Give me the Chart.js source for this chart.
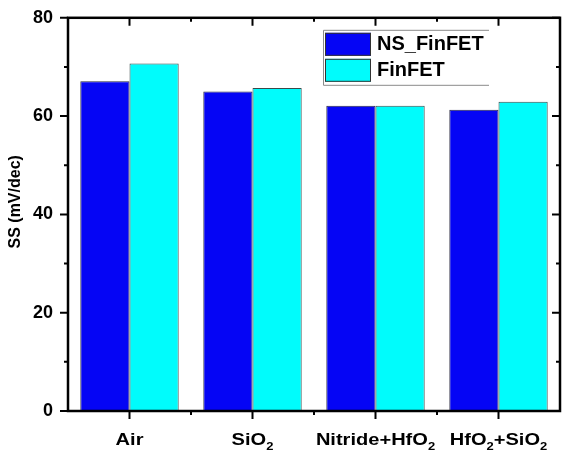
<!DOCTYPE html>
<html>
<head>
<meta charset="utf-8">
<script src="https://cdn.jsdelivr.net/npm/chart.js@4.4.1/dist/chart.umd.min.js"></script>
<style>
  html, body { margin: 0; padding: 0; background: #fff; }
  #wrap { width: 562px; height: 454px; }
</style>
</head>
<body>
<div id="wrap"><canvas id="c" width="562" height="454"></canvas></div>
<script>
// Subthreshold swing by spacer dielectric
const categories = ['Air', 'SiO₂', 'Nitride+HfO₂', 'HfO₂+SiO₂'];
const nsFinFET = [67.1, 65.0, 62.1, 61.3];
const finFET = [70.7, 65.7, 62.1, 62.9];
const seriesNames = ['NS_FinFET', 'FinFET'];
const yTicks = [0, 20, 40, 60, 80];

const FONT = "'Liberation Sans', Arial, Helvetica, sans-serif";

// Draws a label where '₂' is rendered as a lowered, smaller '2'
function drawSubText(ctx, text, cx, baseY, size, stretch) {
  const parts = [];
  let buf = '';
  for (const ch of text) {
    if (ch === '₂') { if (buf) parts.push({ t: buf, sub: false }); buf = ''; parts.push({ t: '2', sub: true }); }
    else buf += ch;
  }
  if (buf) parts.push({ t: buf, sub: false });
  const subSize = Math.round(size * 0.65);
  let total = 0;
  for (const p of parts) {
    ctx.font = 'bold ' + (p.sub ? subSize : size) + 'px ' + FONT;
    p.w = ctx.measureText(p.t).width;
    total += p.w;
  }
  ctx.save();
  ctx.translate(cx, baseY);
  ctx.scale(stretch, 1);
  let x = -total / 2;
  ctx.textAlign = 'left';
  ctx.textBaseline = 'alphabetic';
  for (const p of parts) {
    ctx.font = 'bold ' + (p.sub ? subSize : size) + 'px ' + FONT;
    ctx.fillText(p.t, x, p.sub ? size * 0.3 : 0);
    x += p.w;
  }
  ctx.restore();
}

const framePlugin = {
  id: 'frame',
  afterDatasetsDraw(chart) {
    const { ctx, chartArea: a, scales } = chart;
    const xs = scales.x, ys = scales.y;
    ctx.save();
    ctx.strokeStyle = '#000';
    ctx.lineCap = 'butt';

    // ticks
    ctx.lineWidth = 2;
    const majorLen = 8, minorLen = 4;
    ctx.beginPath();
    yTicks.forEach(v => {
      const y = ys.getPixelForValue(v);
      ctx.moveTo(a.left - majorLen, y); ctx.lineTo(a.left, y);
      ctx.moveTo(a.right, y); ctx.lineTo(a.right - majorLen, y);
    });
    for (let i = 0; i < yTicks.length - 1; i++) {
      const y = ys.getPixelForValue((yTicks[i] + yTicks[i + 1]) / 2);
      ctx.moveTo(a.left - minorLen, y); ctx.lineTo(a.left, y);
      ctx.moveTo(a.right, y); ctx.lineTo(a.right - minorLen, y);
    }
    categories.forEach((c, i) => {
      const x = xs.getPixelForValue(i);
      ctx.moveTo(x, a.bottom); ctx.lineTo(x, a.bottom + majorLen);
      ctx.moveTo(x, a.top); ctx.lineTo(x, a.top + majorLen);
      if (i < categories.length - 1) {
        const xm = (x + xs.getPixelForValue(i + 1)) / 2;
        ctx.moveTo(xm, a.bottom); ctx.lineTo(xm, a.bottom + minorLen);
        ctx.moveTo(xm, a.top); ctx.lineTo(xm, a.top + minorLen);
      }
    });
    ctx.stroke();

    // axis box
    ctx.lineWidth = 2.5;
    ctx.strokeRect(a.left, a.top, a.right - a.left, a.bottom - a.top);

    // category labels
    ctx.fillStyle = '#000';
    categories.forEach((c, i) => {
      drawSubText(ctx, c, xs.getPixelForValue(i), a.bottom + 34, 17, 1.18);
    });

    // y axis title
    ctx.save();
    ctx.translate(16, a.top + 184);
    ctx.rotate(-Math.PI / 2);
    ctx.font = 'bold 16px ' + FONT;
    ctx.textAlign = 'center';
    ctx.textBaseline = 'middle';
    ctx.fillText('SS (mV/dec)', 0, 0);
    ctx.restore();

    // legend
    const lx = a.left + 255, ly = a.top + 12, lw = 166, lh = 55;
    ctx.strokeStyle = '#8a8a8a';
    ctx.lineWidth = 1;
    ctx.beginPath();
    ctx.moveTo(lx + lw, ly + 0.5); ctx.lineTo(lx + 0.5, ly + 0.5);
    ctx.lineTo(lx + 0.5, ly + lh + 0.5); ctx.lineTo(lx + lw, ly + lh + 0.5);
    ctx.stroke();
    chart.data.datasets.forEach((ds, i) => {
      const sy = ly + 3 + i * 26;
      ctx.fillStyle = ds.backgroundColor;
      ctx.fillRect(lx + 2, sy, 46, 23);
      ctx.strokeStyle = '#333';
      ctx.strokeRect(lx + 2.5, sy + 0.5, 45, 22);
      ctx.fillStyle = '#000';
      ctx.font = 'bold 20px ' + FONT;
      ctx.textAlign = 'left';
      ctx.textBaseline = 'middle';
      ctx.fillText(ds.label, lx + 54, sy + 12);
    });
    ctx.restore();
  }
};

new Chart(document.getElementById('c'), {
  type: 'bar',
  data: {
    labels: categories,
    datasets: [
      { label: seriesNames[0], data: nsFinFET, backgroundColor: '#0505f5', borderColor: '#2a2a40', borderWidth: 1 },
      { label: seriesNames[1], data: finFET, backgroundColor: '#00fcfc', borderColor: '#3a4a4a', borderWidth: 1 }
    ]
  },
  options: {
    responsive: false,
    animation: false,
    events: [],
    layout: { padding: { top: 14, right: 2, left: 0, bottom: 0 } },
    datasets: { bar: { categoryPercentage: 0.8, barPercentage: 1.0 } },
    plugins: { legend: { display: false }, tooltip: { enabled: false } },
    scales: {
      x: {
        grid: { display: false },
        border: { display: false },
        ticks: { display: false },
        afterFit(s) { s.height = 43; }
      },
      y: {
        min: 0, max: 80,
        grid: { display: false },
        border: { display: false },
        ticks: {
          stepSize: 20,
          padding: 7,
          color: '#000',
          font: { family: FONT, size: 18, weight: 'bold' }
        },
        afterFit(s) { s.width = 68; }
      }
    }
  },
  plugins: [framePlugin]
});
</script>
</body>
</html>
